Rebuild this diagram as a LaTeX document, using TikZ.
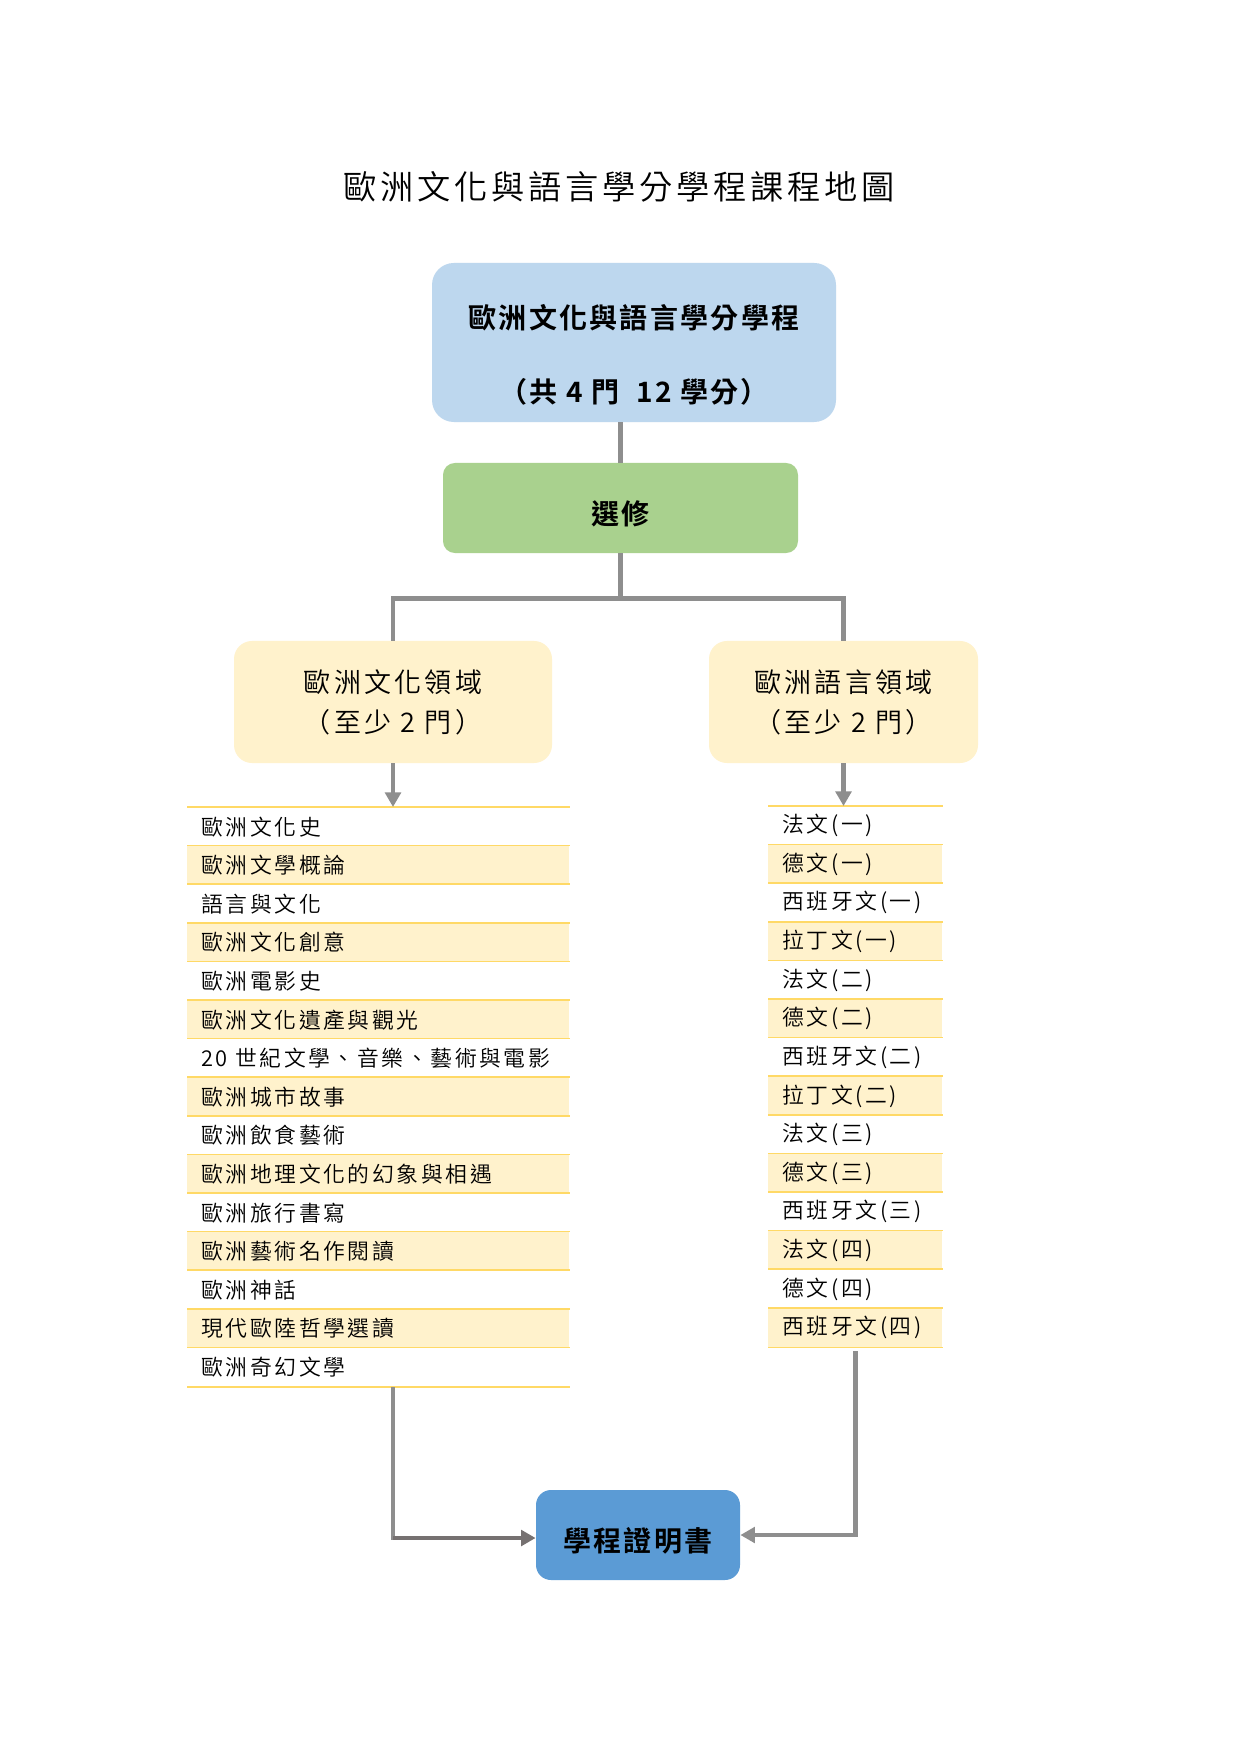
\documentclass[tikz,border=0pt]{standalone}
\usepackage{fontspec}
\setmainfont{Noto Sans CJK TC}[UprightFont={* DemiLight}, BoldFont={* Bold}]
\usetikzlibrary{arrows.meta}
\definecolor{topblue}{HTML}{BDD7EE}
\definecolor{greenbox}{HTML}{A9D18E}
\definecolor{boxyellow}{HTML}{FFF2CC}
\definecolor{certblue}{HTML}{5B9BD5}
\definecolor{sepgold}{HTML}{FFD966}
\definecolor{linegray}{HTML}{8E8E8E}
\definecolor{darkline}{HTML}{767171}
\newcommand{\fTitle}{\fontsize{16pt}{20pt}\selectfont\addfontfeature{LetterSpace=11.5}}
\newcommand{\fBold}{\fontsize{13.5pt}{35.5pt}\selectfont\bfseries\addfontfeature{LetterSpace=8}}
\newcommand{\fMid}{\fontsize{13pt}{19.2pt}\selectfont\addfontfeature{LetterSpace=12}}
\newcommand{\fList}{\fontsize{10.5pt}{13pt}\selectfont\addfontfeature{LetterSpace=12}}
\tikzset{
  box/.style={draw=none, inner sep=0pt, align=center, text=black},
  lowtext/.style={text height=17pt, text depth=1.5pt},
  conn/.style={draw=linegray, line width=2.2pt},
  arr/.style={conn, -{Triangle[length=7pt,width=7.5pt]}},
  sep/.style={draw=sepgold, line width=0.7pt},
  rowL/.style={anchor=north west, minimum width=6.464cm, minimum height=0.6532cm,
    inner xsep=0.237cm, inner ysep=0pt, text width=5.99cm, align=left, font=\fList},
  rowR/.style={anchor=north west, minimum width=2.944cm, minimum height=0.6532cm,
    inner xsep=0.237cm, inner ysep=0pt, text width=2.471cm, align=left, font=\fList},
}
\begin{document}
\begin{tikzpicture}[x=0.016922cm,y=-0.016922cm]
\useasboundingbox (0,0) rectangle (1241,1754);
\fill[white] (0,0) rectangle (1241,1754);

% title
\node[font=\fTitle] (title) at (619,187) {歐洲文化與語言學分學程課程地圖};

% top box
\node[box, fill=topblue, minimum width=6.836cm, minimum height=2.691cm, rounded corners=0.37cm] (top) at (634,342.5) {};
\node[font=\fBold, align=center] (topT) at (634,355) {歐洲文化與語言學分學程\\（共 4 門\ \ 12 學分）};

% green box
\node[box, lowtext, fill=greenbox, minimum width=6.007cm, minimum height=1.523cm, rounded corners=0.2cm, font=\fBold] (green) at (620.5,508) {選修};

% domain boxes
\node[box, fill=boxyellow, minimum width=5.381cm, minimum height=2.065cm, rounded corners=0.305cm, font=\fMid] (Lbox) at (393,702) {歐洲文化領域\\（至少 2 門）};
\node[box, fill=boxyellow, minimum width=4.552cm, minimum height=2.065cm, rounded corners=0.305cm, font=\fMid] (Rbox) at (843.5,702) {歐洲語言領域\\（至少 2 門）};

% certificate
\node[box, lowtext, fill=certblue, minimum width=3.452cm, minimum height=1.523cm, rounded corners=0.254cm, font=\fBold] (cert) at (638,1535) {學程證明書};

% left list
\foreach \t [count=\i] in {歐洲文化史, 歐洲文學概論, 語言與文化, 歐洲文化創意, 歐洲電影史, 歐洲文化遺產與觀光, 20 世紀文學、音樂、藝術與電影, 歐洲城市故事, 歐洲飲食藝術, 歐洲地理文化的幻象與相遇, 歐洲旅行書寫, 歐洲藝術名作閱讀, 歐洲神話, 現代歐陸哲學選讀, 歐洲奇幻文學} {
  \ifodd\i \def\fc{white}\else\def\fc{boxyellow}\fi
  \node[rowL, fill=\fc] (L\i) at ({187},{807+38.6*(\i-1)}) {\t};
}
\foreach \i in {1,...,15} \draw[sep] (L\i.north west) -- (L\i.north east);
\draw[sep] (L15.south west) -- (L15.south east);

% right list
\foreach \t [count=\i] in {法文(一), 德文(一), 西班牙文(一), 拉丁文(一), 法文(二), 德文(二), 西班牙文(二), 拉丁文(二), 法文(三), 德文(三), 西班牙文(三), 法文(四), 德文(四), 西班牙文(四)} {
  \ifodd\i \def\fc{white}\else\def\fc{boxyellow}\fi
  \node[rowR, fill=\fc] (R\i) at ({768},{806+38.6*(\i-1)}) {\t};
}
\foreach \i in {1,...,14} \draw[sep] (R\i.north west) -- (R\i.north east);
\draw[sep] (R14.south west) -- (R14.south east);

% connectors
\draw[conn] (green.north) -- (green.north |- top.south);
\path (green.south) ++(0,45) coordinate (bar);
\draw[conn] (green.south) -- (bar);
\draw[conn] (Lbox.north) |- (bar) -| (Rbox.north);
\draw[arr] (Lbox.south) -- (Lbox.south |- L1.north);
\draw[arr] (Rbox.south) -- (Rbox.south |- R1.north);
\path (Lbox.south |- cert.west) ++(0,3) coordinate (Lc);
\draw[conn, line cap=rect, shorten <=1pt] (Lbox.south |- L15.south) -- (Lc);
\draw[arr, draw=darkline] (Lc) -- (Lc -| cert.west);
\draw[arr, shorten <=2pt] (R14.south) |- (cert.east);
\end{tikzpicture}
\end{document}
